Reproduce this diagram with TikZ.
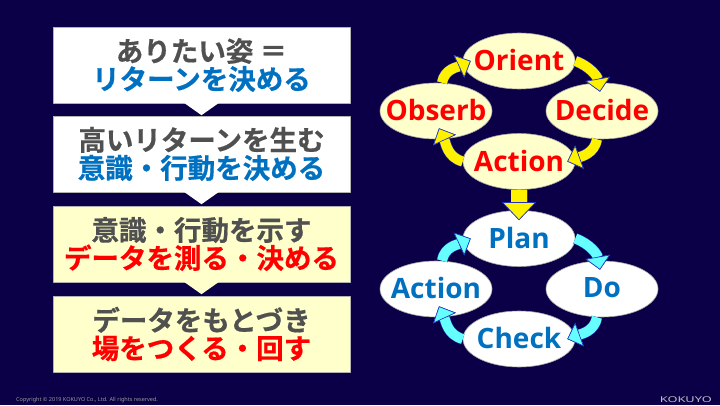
\documentclass[tikz,border=0pt]{standalone}
\usepackage{fontspec}
\setmainfont{Noto Sans}
\newfontfamily\jpfont{Noto Sans CJK JP Bold}[FakeBold=0.6]
\newfontfamily\oofont{Open Sans Bold}
\usetikzlibrary{arrows.meta,shapes.geometric}
\definecolor{bgnavy}{HTML}{0B0047}
\definecolor{txtgray}{HTML}{505050}
\definecolor{txtblue}{HTML}{0070C0}
\definecolor{palecream}{HTML}{FFFFCC}
\definecolor{skycyan}{HTML}{66FFFF}
\definecolor{tipblue}{HTML}{2030C0}
\newcommand{\ovtxt}[1]{\makebox[0pt]{\raisebox{2pt}{#1}}}
\begin{document}
\begin{tikzpicture}[x=1pt,y=1pt,line join=round,
	stepbox/.style={rectangle,draw=gray!60,line width=.4pt,minimum width=297pt,minimum height=76pt,inner sep=0pt,align=center,font=\jpfont\fontsize{27.5}{28}\selectfont,text=txtgray},
	oval/.style={ellipse,draw=gray!70,line width=.6pt,minimum width=112pt,minimum height=56pt,inner sep=0pt,font=\oofont\fontsize{28}{28}\selectfont},
	oodaoval/.style={oval,fill=palecream,text=red},
	pdcaoval/.style={oval,fill=white,text=txtblue},
	turn/.style={line width=10pt,draw=#1,-{Triangle[length=13pt,width=25pt,line width=.6pt,fill=#1,color=tipblue]},preaction={draw=tipblue,line width=11pt}}]
	\fill[bgnavy] (0,0) rectangle (720,405);
	\node[stepbox,fill=white] (want) at (201.5,340) {ありたい姿 ＝\\\textcolor{txtblue}{リターンを決める}};
	\node[stepbox,fill=white] (high) at (201.5,251) {高いリターンを生む\\\textcolor{txtblue}{意識・行動を決める}};
	\node[stepbox,fill=palecream] (show) at (201.5,161) {意識・行動を示す\\\textcolor{red}{データを測る・決める}};
	\node[stepbox,fill=palecream] (base) at (201.5,71) {データをもとづき\\\textcolor{red}{場をつくる・回す}};
	\foreach \a/\c in {want/white,high/white,show/palecream}
		\fill[\c] ([xshift=-17pt]\a.south) -- ([xshift=17pt]\a.south) -- ([yshift=-12pt]\a.south) -- cycle;
	% OODA
	\node[oodaoval] (orient) at (519,344) {\ovtxt{Orient}};
	\node[oodaoval] (decide) at (602,294) {\ovtxt{Decide}};
	\node[oodaoval] (action) at (519,243.5) {\ovtxt{Action}};
	\node[oodaoval] (obserb) at (436,294) {\ovtxt{Obserb}};
	\draw[turn=yellow] (orient.east) to[out=-20,in=100] ([shift={(-2,-9)}]decide.north);
	\draw[turn=yellow] ([xshift=-5pt]decide.south) to[out=-100,in=20] ([xshift=-8pt]action.east);
	\draw[turn=yellow] (action.west) to[out=165,in=-65] ([shift={(3,11)}]obserb.south);
	\draw[turn=yellow] ([xshift=6pt]obserb.north) to[out=80,in=205] ([xshift=8pt]orient.west);
	% PDCA
	\node[pdcaoval] (plan) at (519,166.5) {\ovtxt{Plan}};
	\node[pdcaoval] (do) at (602,116) {\ovtxt{Do}};
	\node[pdcaoval] (check) at (519,66) {\ovtxt{Check}};
	\node[pdcaoval] (act) at (436,116) {\ovtxt{Action}};
	\draw[turn=skycyan] (plan.east) to[out=-20,in=100] ([shift={(-2,-9)}]do.north);
	\draw[turn=skycyan] ([xshift=-5pt]do.south) to[out=-100,in=20] ([xshift=-8pt]check.east);
	\draw[turn=skycyan] (check.west) to[out=165,in=-65] ([shift={(3,11)}]act.south);
	\draw[turn=skycyan] ([xshift=6pt]act.north) to[out=80,in=205] ([xshift=8pt]plan.west);
	\draw[line width=16pt,draw=yellow,-{Triangle[length=18pt,width=34pt,line width=.6pt,fill=yellow,color=tipblue]},preaction={draw=tipblue,line width=17pt}] (action.south) -- ([yshift=-10pt]plan.north);
	% footer
	\node[font=\fontsize{5.5}{6}\selectfont,text=gray!80,anchor=west,inner sep=0pt] (copy) at (16,5) {Copyright © 2019 KOKUYO Co., Ltd. All rights reserved.};
	\node[font=\fontsize{8}{9}\selectfont,text=gray!50,anchor=east,inner sep=0pt] (logo) at (712,5) {\scalebox{1.6}[1]{KOKUYO}};
\end{tikzpicture}
\end{document}
